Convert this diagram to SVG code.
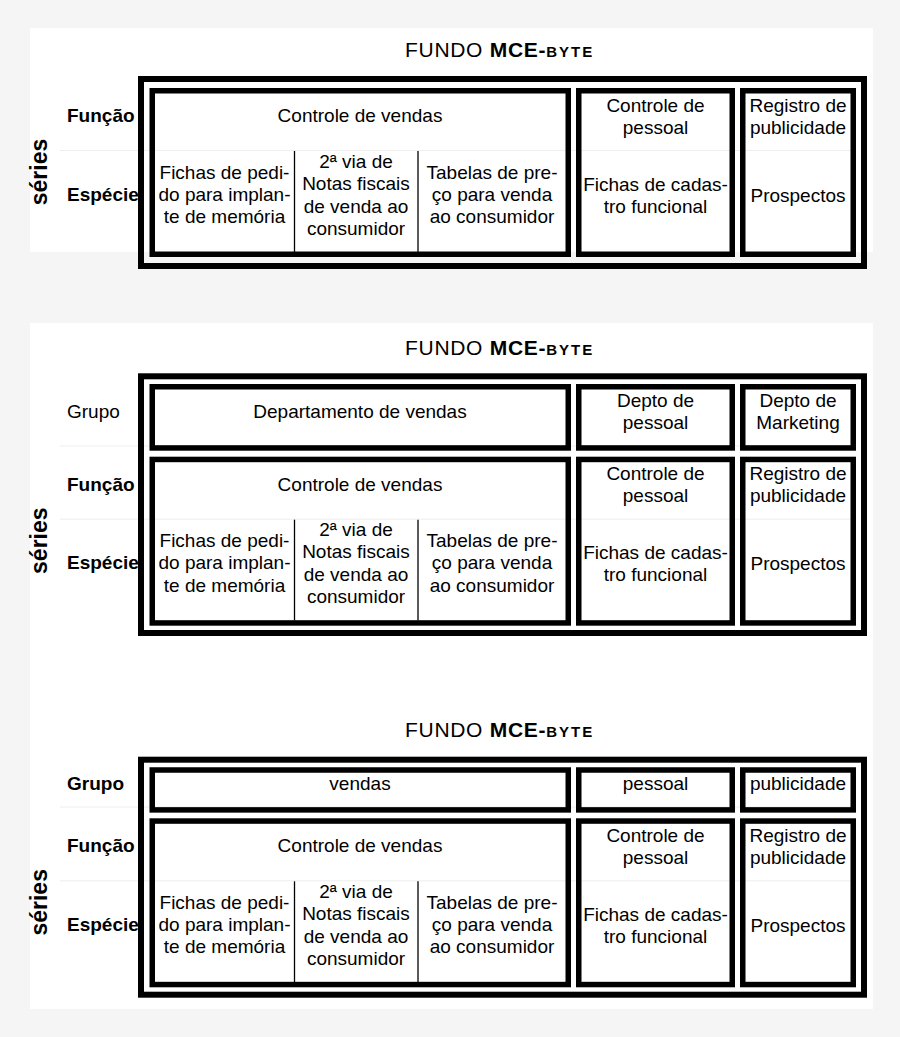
<svg xmlns="http://www.w3.org/2000/svg" width="900" height="1037" viewBox="0 0 900 1037">
<style>
.t{font-family:'Liberation Sans',Arial,sans-serif;font-size:19px;text-anchor:middle;fill:#000}
.lb{font-family:'Liberation Sans',Arial,sans-serif;font-size:19px;font-weight:bold;fill:#000}
.lr{font-family:'Liberation Sans',Arial,sans-serif;font-size:19px;fill:#000}
.se{font-family:'Liberation Sans',Arial,sans-serif;font-size:23px;font-weight:bold;text-anchor:middle;fill:#000}
.ti{font-family:'Liberation Sans',Arial,sans-serif;font-size:21px;letter-spacing:0.7px;fill:#000}
.sc{font-weight:bold;font-size:15px;letter-spacing:2px}
.ob{fill:none;stroke:#000;stroke-width:6}
.ib{fill:none;stroke:#000;stroke-width:5.5}
.vl{stroke:#000;stroke-width:1.3}
.fl{stroke:#eeeeee;stroke-width:1}
</style>
<rect x="0" y="0" width="900" height="1037" fill="#f5f5f5"/>
<rect x="30" y="28" width="843" height="224" fill="#fff"/>
<rect x="30" y="323" width="843" height="686" fill="#fff"/>

<!-- Panel 1 -->
<g id="panel1">
  <text class="ti" x="405" y="57">FUNDO <tspan font-weight="bold">MCE-</tspan><tspan class="sc">BYTE</tspan></text>
  <line class="fl" x1="60" y1="150.5" x2="856" y2="150.5"/>
  <g id="p1-labels">
    <text class="se" transform="translate(47,172) rotate(-90)">séries</text>
    <text class="lb" x="67" y="122">Função</text>
    <text class="lb" x="67" y="200.5">Espécie</text>
  </g>
  <rect id="p1-outer" class="ob" x="141" y="79" width="723" height="187"/>
  <g id="p1-vendas">
    <rect class="ib" x="152.25" y="90.75" width="416" height="163.5"/>
    <line class="vl" x1="294.5" y1="151" x2="294.5" y2="252"/>
    <line class="vl" x1="418" y1="151" x2="418" y2="252"/>
    <text class="t" x="360" y="122">Controle de vendas</text>
    <text class="t" x="224.5" y="178.5">Fichas de pedi-</text>
    <text class="t" x="224.5" y="200.5">do para implan-</text>
    <text class="t" x="224.5" y="223">te de memória</text>
    <text class="t" x="356" y="167.5">2ª via de</text>
    <text class="t" x="356" y="189.5">Notas fiscais</text>
    <text class="t" x="356" y="212.5">de venda ao</text>
    <text class="t" x="356" y="234.5">consumidor</text>
    <text class="t" x="492" y="178.5">Tabelas de pre-</text>
    <text class="t" x="492" y="200.5">ço para venda</text>
    <text class="t" x="492" y="223">ao consumidor</text>
  </g>
  <g id="p1-pessoal">
    <rect class="ib" x="578.75" y="90.75" width="153.5" height="163.5"/>
    <text class="t" x="655.5" y="111.5">Controle de</text>
    <text class="t" x="655.5" y="133.5">pessoal</text>
    <text class="t" x="655.5" y="190.5">Fichas de cadas-</text>
    <text class="t" x="655.5" y="212.5">tro funcional</text>
  </g>
  <g id="p1-publicidade">
    <rect class="ib" x="742.75" y="90.75" width="110.5" height="163.5"/>
    <text class="t" x="798" y="111.5">Registro de</text>
    <text class="t" x="798" y="133.5">publicidade</text>
    <text class="t" x="798" y="201.5">Prospectos</text>
  </g>
</g>

<!-- Panel 2 -->
<g id="panel2">
  <text class="ti" x="405" y="355">FUNDO <tspan font-weight="bold">MCE-</tspan><tspan class="sc">BYTE</tspan></text>
  <line class="fl" x1="60" y1="446" x2="856" y2="446"/>
  <line class="fl" x1="60" y1="519.2" x2="856" y2="519.2"/>
  <g id="p2-labels">
    <text class="se" transform="translate(47,540.7) rotate(-90)">séries</text>
    <text class="lr" x="67" y="418.2">Grupo</text>
    <text class="lb" x="67" y="490.7">Função</text>
    <text class="lb" x="67" y="569.2">Espécie</text>
  </g>
  <rect id="p2-outer" class="ob" x="141" y="376.3" width="723" height="256.7"/>
  <g id="p2-dep-vendas">
    <rect class="ib" x="152.25" y="386.75" width="416" height="61.2"/>
    <text class="t" x="360" y="417.5">Departamento de vendas</text>
  </g>
  <g id="p2-dep-pessoal">
    <rect class="ib" x="578.75" y="386.75" width="153.5" height="61.2"/>
    <text class="t" x="655.5" y="406.5">Depto de</text>
    <text class="t" x="655.5" y="428.5">pessoal</text>
  </g>
  <g id="p2-dep-marketing">
    <rect class="ib" x="742.75" y="386.75" width="110.5" height="61.2"/>
    <text class="t" x="798" y="406.5">Depto de</text>
    <text class="t" x="798" y="428.5">Marketing</text>
  </g>
  <g id="p2-vendas">
    <rect class="ib" x="152.25" y="459.45" width="416" height="163.5"/>
    <line class="vl" x1="294.5" y1="519.7" x2="294.5" y2="620.5"/>
    <line class="vl" x1="418" y1="519.7" x2="418" y2="620.5"/>
    <text class="t" x="360" y="490.7">Controle de vendas</text>
    <text class="t" x="224.5" y="547.2">Fichas de pedi-</text>
    <text class="t" x="224.5" y="569.2">do para implan-</text>
    <text class="t" x="224.5" y="591.7">te de memória</text>
    <text class="t" x="356" y="536.2">2ª via de</text>
    <text class="t" x="356" y="558.2">Notas fiscais</text>
    <text class="t" x="356" y="581.2">de venda ao</text>
    <text class="t" x="356" y="603.2">consumidor</text>
    <text class="t" x="492" y="547.2">Tabelas de pre-</text>
    <text class="t" x="492" y="569.2">ço para venda</text>
    <text class="t" x="492" y="591.7">ao consumidor</text>
  </g>
  <g id="p2-pessoal">
    <rect class="ib" x="578.75" y="459.45" width="153.5" height="163.5"/>
    <text class="t" x="655.5" y="480.2">Controle de</text>
    <text class="t" x="655.5" y="502.2">pessoal</text>
    <text class="t" x="655.5" y="559.2">Fichas de cadas-</text>
    <text class="t" x="655.5" y="581.2">tro funcional</text>
  </g>
  <g id="p2-publicidade">
    <rect class="ib" x="742.75" y="459.45" width="110.5" height="163.5"/>
    <text class="t" x="798" y="480.2">Registro de</text>
    <text class="t" x="798" y="502.2">publicidade</text>
    <text class="t" x="798" y="570.2">Prospectos</text>
  </g>
</g>

<!-- Panel 3 -->
<g id="panel3">
  <text class="ti" x="405" y="737">FUNDO <tspan font-weight="bold">MCE-</tspan><tspan class="sc">BYTE</tspan></text>
  <line class="fl" x1="60" y1="807" x2="856" y2="807"/>
  <line class="fl" x1="60" y1="880.8" x2="856" y2="880.8"/>
  <g id="p3-labels">
    <text class="se" transform="translate(47,902.3) rotate(-90)">séries</text>
    <text class="lb" x="67" y="790">Grupo</text>
    <text class="lb" x="67" y="852.3">Função</text>
    <text class="lb" x="67" y="930.8">Espécie</text>
  </g>
  <rect id="p3-outer" class="ob" x="141" y="759.7" width="723" height="235"/>
  <g id="p3-g-vendas">
    <rect class="ib" x="152.25" y="770" width="416" height="39.9"/>
    <text class="t" x="360" y="789.5">vendas</text>
  </g>
  <g id="p3-g-pessoal">
    <rect class="ib" x="578.75" y="770" width="153.5" height="39.9"/>
    <text class="t" x="655.5" y="789.5">pessoal</text>
  </g>
  <g id="p3-g-publicidade">
    <rect class="ib" x="742.75" y="770" width="110.5" height="39.9"/>
    <text class="t" x="798" y="789.5">publicidade</text>
  </g>
  <g id="p3-vendas">
    <rect class="ib" x="152.25" y="821.05" width="416" height="163.5"/>
    <line class="vl" x1="294.5" y1="881.3" x2="294.5" y2="982"/>
    <line class="vl" x1="418" y1="881.3" x2="418" y2="982"/>
    <text class="t" x="360" y="852.3">Controle de vendas</text>
    <text class="t" x="224.5" y="908.8">Fichas de pedi-</text>
    <text class="t" x="224.5" y="930.8">do para implan-</text>
    <text class="t" x="224.5" y="953.3">te de memória</text>
    <text class="t" x="356" y="897.8">2ª via de</text>
    <text class="t" x="356" y="919.8">Notas fiscais</text>
    <text class="t" x="356" y="942.8">de venda ao</text>
    <text class="t" x="356" y="964.8">consumidor</text>
    <text class="t" x="492" y="908.8">Tabelas de pre-</text>
    <text class="t" x="492" y="930.8">ço para venda</text>
    <text class="t" x="492" y="953.3">ao consumidor</text>
  </g>
  <g id="p3-pessoal">
    <rect class="ib" x="578.75" y="821.05" width="153.5" height="163.5"/>
    <text class="t" x="655.5" y="841.8">Controle de</text>
    <text class="t" x="655.5" y="863.8">pessoal</text>
    <text class="t" x="655.5" y="920.8">Fichas de cadas-</text>
    <text class="t" x="655.5" y="942.8">tro funcional</text>
  </g>
  <g id="p3-publicidade">
    <rect class="ib" x="742.75" y="821.05" width="110.5" height="163.5"/>
    <text class="t" x="798" y="841.8">Registro de</text>
    <text class="t" x="798" y="863.8">publicidade</text>
    <text class="t" x="798" y="931.8">Prospectos</text>
  </g>
</g>
<g id="connectors"/>
</svg>
